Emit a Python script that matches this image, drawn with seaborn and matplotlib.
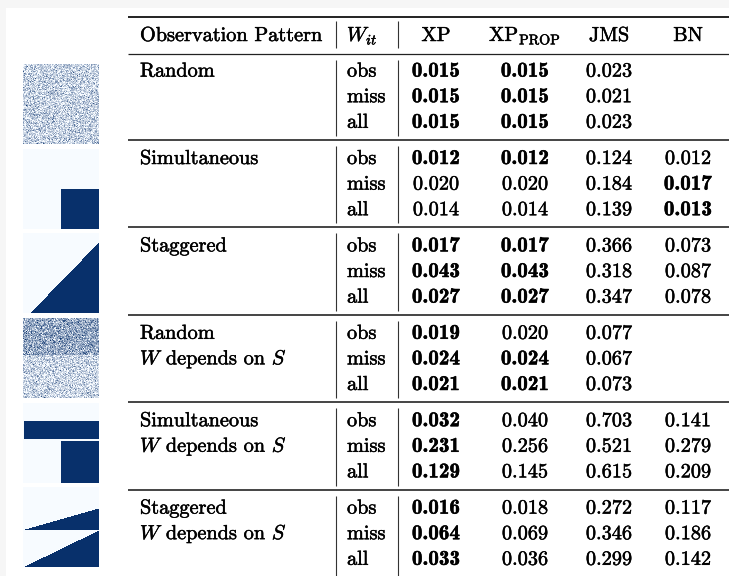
import numpy as np
import matplotlib
matplotlib.use('Agg')
import matplotlib.pyplot as plt
import matplotlib.patheffects as pe
from matplotlib.colors import LinearSegmentedColormap
from matplotlib.patches import Rectangle
import seaborn as sns

# ---- table content ----
patterns = ["Random", "Simultaneous", "Staggered", "Random", "Simultaneous", "Staggered"]
depends_on_s = [False, False, False, True, True, True]
w_rows = ["obs", "miss", "all"]
methods = ["XP", r"XP$_{\mathrm{PROP}}$", "JMS", "BN"]

xp = [[0.015, 0.015, 0.015], [0.012, 0.020, 0.014], [0.017, 0.043, 0.027],
      [0.019, 0.024, 0.021], [0.032, 0.231, 0.129], [0.016, 0.064, 0.033]]
xp_prop = [[0.015, 0.015, 0.015], [0.012, 0.020, 0.014], [0.017, 0.043, 0.027],
           [0.020, 0.024, 0.021], [0.040, 0.256, 0.145], [0.018, 0.069, 0.036]]
jms = [[0.023, 0.021, 0.023], [0.124, 0.184, 0.139], [0.366, 0.318, 0.347],
       [0.077, 0.067, 0.073], [0.703, 0.521, 0.615], [0.272, 0.346, 0.299]]
bn = [[None, None, None], [0.012, 0.017, 0.013], [0.073, 0.087, 0.078],
      [None, None, None], [0.141, 0.279, 0.209], [0.117, 0.186, 0.142]]

# bold flags per block / row, order XP, XP_PROP, JMS, BN
bold = [
    [[1, 1, 0, 0], [1, 1, 0, 0], [1, 1, 0, 0]],
    [[1, 1, 0, 0], [0, 0, 0, 1], [0, 0, 0, 1]],
    [[1, 1, 0, 0], [1, 1, 0, 0], [1, 1, 0, 0]],
    [[1, 0, 0, 0], [1, 1, 0, 0], [1, 1, 0, 0]],
    [[1, 0, 0, 0], [1, 0, 0, 0], [1, 0, 0, 0]],
    [[1, 0, 0, 0], [1, 0, 0, 0], [1, 0, 0, 0]],
]

# ---- observation pattern thumbnails (units x periods) ----
N_UNITS, N_PERIODS = 80, 76
rng = np.random.default_rng(3)  # texture for the random-mask thumbnails only


def noise(rows, p):
    return rng.binomial(6, p, size=(rows, N_PERIODS)) / 6


def staggered(rows, first_row, first_col, last_col):
    m = np.zeros((rows, N_PERIODS))
    for r in range(rows):
        if r < first_row:
            continue
        start = first_col + (last_col - first_col) * (r - first_row) / max(rows - 1 - first_row, 1)
        m[r, int(round(start)):] = 1
    return m


img_random = noise(N_UNITS, 0.22)

img_simult = np.zeros((N_UNITS, N_PERIODS))
img_simult[40:, 38:] = 1

img_stagger = staggered(N_UNITS, 9, N_PERIODS, 8)

img_random_s = np.vstack([noise(37, 0.42), noise(43, 0.2)])

img_simult_s = np.zeros((N_UNITS, N_PERIODS))
img_simult_s[18:36, 1:] = 1
img_simult_s[38:, 38:] = 1

img_stagger_s = np.vstack([np.zeros((21, N_PERIODS)),
                           staggered(22, 0, N_PERIODS, 2),
                           staggered(37, 0, N_PERIODS, 2)])

thumbs = [img_random, img_simult, img_stagger, img_random_s, img_simult_s, img_stagger_s]
thumb_tops = [64, 149, 233, 318, 403, 487]

# ---- style ----
sns.set_theme(style="white")
plt.rcParams["font.family"] = ["cmr10", "DejaVu Serif"]
plt.rcParams["mathtext.fontset"] = "cm"
plt.rcParams["axes.unicode_minus"] = False
plt.rcParams["text.color"] = "black"

W, H = 729, 576
fig = plt.figure(figsize=(W / 100, H / 100), dpi=100)
fig.patch.set_facecolor("#f6f6f6")
ax = fig.add_axes([0, 0, 1, 1])
ax.set_xlim(0, W)
ax.set_ylim(H, 0)
ax.axis("off")
ax.add_patch(Rectangle((6, 8), W, H, facecolor="white", edgecolor="none", zorder=0))

FS = 14.6
FS_BOLD = 15.2
thick = [pe.withStroke(linewidth=0.35, foreground="black")]
col_pattern = 140
col_w = 347
col_methods = [436, 525, 609, 688]
sep_x = [336, 398]
top_rule, head_rule, head_base = 17, 53.5, 41
block_step, row_step, first_base = 87.4, 25.6, 76.6


def put(x, y, s, ha="left", **kw):
    ax.text(x, y, s, fontsize=kw.pop("fontsize", FS), va="baseline", ha=ha,
            path_effects=thick, **kw)


# rules
ax.hlines(top_rule, 128, W, color="#111111", lw=1.3)
ax.hlines(head_rule, 128, W, color="#222222", lw=0.9)
block_rules = [140 + block_step * k for k in range(5)]
for y in block_rules:
    ax.hlines(y, 128, W, color="#444444", lw=1.4)

# vertical separators
segments = [(top_rule + 4, head_rule - 6)]
edges = [head_rule] + block_rules + [H + 10]
for a, b in zip(edges[:-1], edges[1:]):
    segments.append((a + 6, b - 4))
for x in sep_x:
    for y0, y1 in segments:
        ax.vlines(x, y0, y1, color="#333333", lw=0.8)

# header
put(col_pattern, head_base, "Observation Pattern")
put(col_w, head_base, r"$W_{it}$")
for cx, name in zip(col_methods, methods):
    put(cx, head_base, name, ha="center")

# body
for b, pat in enumerate(patterns):
    base = first_base + block_step * b
    put(col_pattern, base, pat)
    if depends_on_s[b]:
        put(col_pattern, base + row_step, r"$W$ depends on $S$")
    for r, wname in enumerate(w_rows):
        y = base + row_step * r
        put(col_w, y, wname)
        vals = [xp[b][r], xp_prop[b][r], jms[b][r], bn[b][r]]
        for m, v in enumerate(vals):
            if v is None:
                continue
            if bold[b][r][m]:
                put(col_methods[m], y, f"{v:.3f}", ha="center", family="cmb10",
                    fontsize=FS_BOLD)
            else:
                put(col_methods[m], y, f"{v:.3f}", ha="center", family="cmr10")

# thumbnails
cmap = LinearSegmentedColormap.from_list("mask", ["#f7fbff", "#08306b"])
for img, top in zip(thumbs, thumb_tops):
    iax = fig.add_axes([23 / W, 1 - (top + 80) / H, 76 / W, 80 / H])
    sns.heatmap(img, ax=iax, cmap=cmap, vmin=0, vmax=1, cbar=False,
                xticklabels=False, yticklabels=False)
    iax.set_axis_off()

fig.savefig("out.png", dpi=100, facecolor=fig.get_facecolor())
